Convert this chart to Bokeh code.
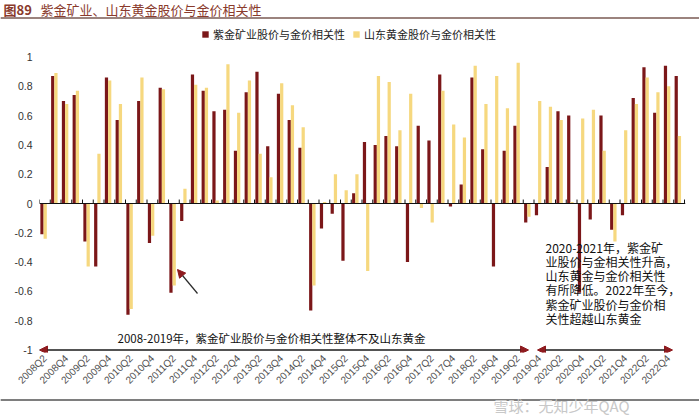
import numpy as np
from bokeh.plotting import figure
from bokeh.layouts import column
from bokeh.models import (Range1d, FixedTicker, CustomJSTickFormatter, Span, Label,
                          Arrow, NormalHead, Legend, LegendItem, ColumnDataSource,
                          BoxAnnotation)
from bokeh.transform import dodge
from bokeh.embed import file_html
from bokeh.resources import INLINE

# ---------------- data ----------------
quarters = [
    "2008Q2", "2008Q3", "2008Q4", "2009Q1", "2009Q2", "2009Q3", "2009Q4", "2010Q1",
    "2010Q2", "2010Q3", "2010Q4", "2011Q1", "2011Q2", "2011Q3", "2011Q4", "2012Q1",
    "2012Q2", "2012Q3", "2012Q4", "2013Q1", "2013Q2", "2013Q3", "2013Q4", "2014Q1",
    "2014Q2", "2014Q3", "2014Q4", "2015Q1", "2015Q2", "2015Q3", "2015Q4", "2016Q1",
    "2016Q2", "2016Q3", "2016Q4", "2017Q1", "2017Q2", "2017Q3", "2017Q4", "2018Q1",
    "2018Q2", "2018Q3", "2018Q4", "2019Q1", "2019Q2", "2019Q3", "2019Q4", "2020Q1",
    "2020Q2", "2020Q3", "2020Q4", "2021Q1", "2021Q2", "2021Q3", "2021Q4", "2022Q1",
    "2022Q2", "2022Q3", "2022Q4", "2023Q1",
]
tick_labels = [
    "2008Q2", "2008Q4", "2009Q2", "2009Q4", "2010Q2", "2010Q4", "2011Q2", "2011Q4",
    "2012Q2", "2012Q4", "2013Q2", "2013Q4", "2014Q2", "2014Q4", "2015Q2", "2015Q4",
    "2016Q2", "2016Q4", "2017Q2", "2017Q4", "2018Q2", "2018Q4", "2019Q2", "2019Q4",
    "2020Q2", "2020Q4", "2021Q2", "2021Q4", "2022Q2", "2022Q4",
]
zijin = [
    -0.21, 0.87, 0.70, 0.74, -0.26, -0.43, 0.86, 0.57, -0.76, 0.70,
    -0.27, 0.79, -0.61, -0.12, 0.88, 0.77, 0.63, 0.64, 0.36, 0.76,
    0.90, 0.39, 0.75, 0.57, 0.38, -0.73, -0.17, -0.07, -0.39, 0.07,
    0.42, 0.40, 0.46, 0.39, -0.40, 0.53, 0.43, 0.88, -0.02, 0.13,
    0.86, 0.37, -0.43, 0.36, 0.53, -0.13, -0.08, 0.25, 0.63, 0.60,
    -0.61, -0.11, 0.60, -0.18, -0.08, 0.72, 0.93, 0.62, 0.94, 0.87,
]
sdhj = [
    -0.24, 0.89, 0.68, 0.77, -0.43, 0.34, 0.84, 0.68, -0.72, 0.86,
    -0.22, 0.78, -0.56, 0.10, 0.81, 0.79, 0.02, 0.95, 0.62, 0.84,
    0.34, 0.18, 0.82, 0.67, 0.52, -0.56, 0.01, 0.20, 0.09, 0.20,
    -0.46, 0.87, 0.83, 0.50, 0.75, -0.03, -0.13, 0.77, 0.54, 0.45,
    0.94, 0.68, 0.87, 0.65, 0.96, -0.09, 0.70, 0.66, 0.57, 0.01,
    0.58, 0.64, 0.36, -0.26, 0.50, 0.68, 0.86, 0.76, 0.80, 0.46,
]
series_names = ["紫金矿业股价与金价相关性", "山东黄金股价与金价相关性"]
y_ticks = [-1, -0.8, -0.6, -0.4, -0.2, 0, 0.2, 0.4, 0.6, 0.8, 1]

title_head = "图89"
title_text = "紫金矿业、山东黄金股价与金价相关性"
note_left = "2008-2019年，紫金矿业股价与金价相关性整体不及山东黄金"
note_right = ("2020-2021年，紫金矿\n业股价与金相关性升高，\n山东黄金与金价相关性\n"
              "有所降低。2022年至今，\n紫金矿业股价与金价相\n关性超越山东黄金")
watermark = "雪球：无知少年QAQ"

RED = "#7B1719"
YELLOW = "#F6D87F"
DARKRED = "#8E1B1F"
TITLE_C = "#8A3A2C"
CJK = "Noto Sans CJK SC"

idx = list(range(len(quarters)))
source = ColumnDataSource(dict(idx=idx, zijin=zijin, sdhj=sdhj))

W, H = 699, 417
HEAD_H = 20            # header strip (title + rule)
MAIN_BOTTOM = 393      # page y where the main figure ends
PX_X = 10.75           # px per category
PX_Y = 146.5           # px per unit
FRAME_L, FRAME_R, FRAME_B = 39, 685, 352
ZERO_Y = 203


def dx(rx):
    return -0.5 + (rx - FRAME_L) / PX_X


def dy(ry):
    return (ZERO_Y - ry) / PX_Y


def strip(height):
    fig = figure(width=W, height=height, x_range=Range1d(0, W), y_range=Range1d(0, height),
                 output_backend="svg", toolbar_location=None,
                 x_axis_location=None, y_axis_location=None, frame_align=False,
                 min_border_left=0, min_border_right=0, min_border_top=0,
                 min_border_bottom=0)
    fig.grid.visible = False
    fig.outline_line_color = None
    return fig


def rule(fig, y, color):
    # horizontal rule drawn as a thin filled band plus a box annotation
    fig.quad(left=[0], right=[W], bottom=[y - 0.5], top=[y + 0.5],
             fill_color=color, line_color=None)
    fig.add_layout(BoxAnnotation(bottom=y - 0.5, top=y + 0.5, fill_color=color,
                                 fill_alpha=1, line_color=None))


# ---------------- header ----------------
h = strip(HEAD_H)
h.add_layout(Label(x=3, y=HEAD_H - 9, text=title_head, text_baseline="middle",
                   text_font_size="13px", text_font=CJK, text_font_style="bold",
                   text_color=TITLE_C))
h.add_layout(Label(x=40, y=HEAD_H - 9, text=title_text, text_baseline="middle",
                   text_font_size="13px", text_font=CJK, text_color=TITLE_C))
rule(h, HEAD_H - 17.5, "#7A5A55")

# ---------------- main chart ----------------
p = figure(width=W, height=MAIN_BOTTOM - HEAD_H,
           x_range=Range1d(-0.5, dx(FRAME_R)),
           y_range=Range1d(dy(FRAME_B), dy(HEAD_H)),
           output_backend="svg", toolbar_location=None, frame_align=False,
           min_border_left=FRAME_L, min_border_right=W - FRAME_R,
           min_border_top=0, min_border_bottom=MAIN_BOTTOM - FRAME_B)
p.outline_line_color = None
p.grid.visible = False
p.background_fill_color = "white"

r1 = p.vbar(x=dodge("idx", -0.27, range=p.x_range), top="zijin", width=0.3,
            source=source, fill_color=RED, line_color=None)
r2 = p.vbar(x=dodge("idx", 0.03, range=p.x_range), top="sdhj", width=0.3,
            source=source, fill_color=YELLOW, line_color=None)

# zero line with category boundary ticks
p.add_layout(Span(location=0, dimension="width", line_color="#111111", line_width=1.2))
bounds = [i - 0.5 for i in range(len(quarters) + 1)]
p.segment(x0=bounds, y0=[0] * len(bounds), x1=bounds, y1=[0.027] * len(bounds),
          line_color="#111111", line_width=1)

# x axis (labels only)
xa = p.xaxis[0]
xa.ticker = FixedTicker(ticks=idx[::2])
xa.formatter = CustomJSTickFormatter(args=dict(labels=quarters),
                                     code="return labels[Math.round(tick)] || '';")
xa.major_label_orientation = np.pi / 4
xa.axis_line_color = None
xa.major_tick_line_color = None
xa.minor_tick_line_color = None
xa.major_tick_out = 0
xa.major_tick_in = 0
xa.minor_tick_out = 0
xa.major_label_text_font = "Liberation Sans"
xa.major_label_text_font_size = "10px"
xa.major_label_text_color = "#505050"
xa.major_label_standoff = 4

# y axis
ya = p.yaxis[0]
ya.ticker = FixedTicker(ticks=y_ticks)
ya.formatter = CustomJSTickFormatter(code="return tick.toFixed(1).replace(/\\.0$/, '');")
ya.axis_line_color = None
ya.major_tick_line_color = None
ya.minor_tick_line_color = None
ya.major_tick_out = 0
ya.major_tick_in = 0
ya.minor_tick_out = 0
ya.major_label_text_font = "Liberation Sans"
ya.major_label_text_font_size = "10.5px"
ya.major_label_text_color = "#333333"
ya.major_label_standoff = 7

# legend
legend = Legend(items=[LegendItem(label=series_names[0], renderers=[r1]),
                       LegendItem(label=series_names[1], renderers=[r2])],
                orientation="horizontal", location=(162, 310),
                padding=0, margin=0, spacing=7, glyph_width=8, glyph_height=8,
                label_standoff=4, label_text_font_size="11px", label_text_font=CJK,
                label_text_color="#222222", background_fill_alpha=0,
                border_line_color=None)
p.add_layout(legend)


# annotations
def head():
    return NormalHead(size=8, fill_color=DARKRED, line_color=DARKRED)


p.add_layout(Arrow(x_start=dx(39), y_start=-1, x_end=dx(528), y_end=-1,
                   start=head(), end=head(), line_color="#1a1a1a", line_width=1.3))
p.add_layout(Arrow(x_start=dx(537), y_start=-1, x_end=dx(672), y_end=-1,
                   start=head(), end=head(), line_color="#1a1a1a", line_width=1.3))
p.add_layout(Arrow(x_start=dx(197), y_start=dy(293), x_end=dx(177), y_end=dy(269),
                   end=head(), line_color="#2a2a2a", line_width=1.2))

p.add_layout(Label(x=dx(117), y=dy(337), text=note_left, text_baseline="middle",
                   text_font_size="11.5px", text_font=CJK, text_color="#111111",
                   background_fill_color="white"))
p.add_layout(Label(x=dx(545), y=dy(238), text=note_right, text_baseline="top",
                   text_font_size="12px", text_font=CJK, text_color="#111111",
                   text_line_height=0.84))

# ---------------- footer: rule and watermark ----------------
FOOT_H = H - MAIN_BOTTOM
f = strip(FOOT_H)
rule(f, H - 399.5, "#555555")
f.add_layout(Label(x=493, y=H - 405, text=watermark, text_baseline="middle",
                   text_font_size="15px", text_font=CJK, text_color="#C8C8C8"))

layout = column(h, p, f, spacing=0)
open("out.html", "w").write(file_html(layout, INLINE))
